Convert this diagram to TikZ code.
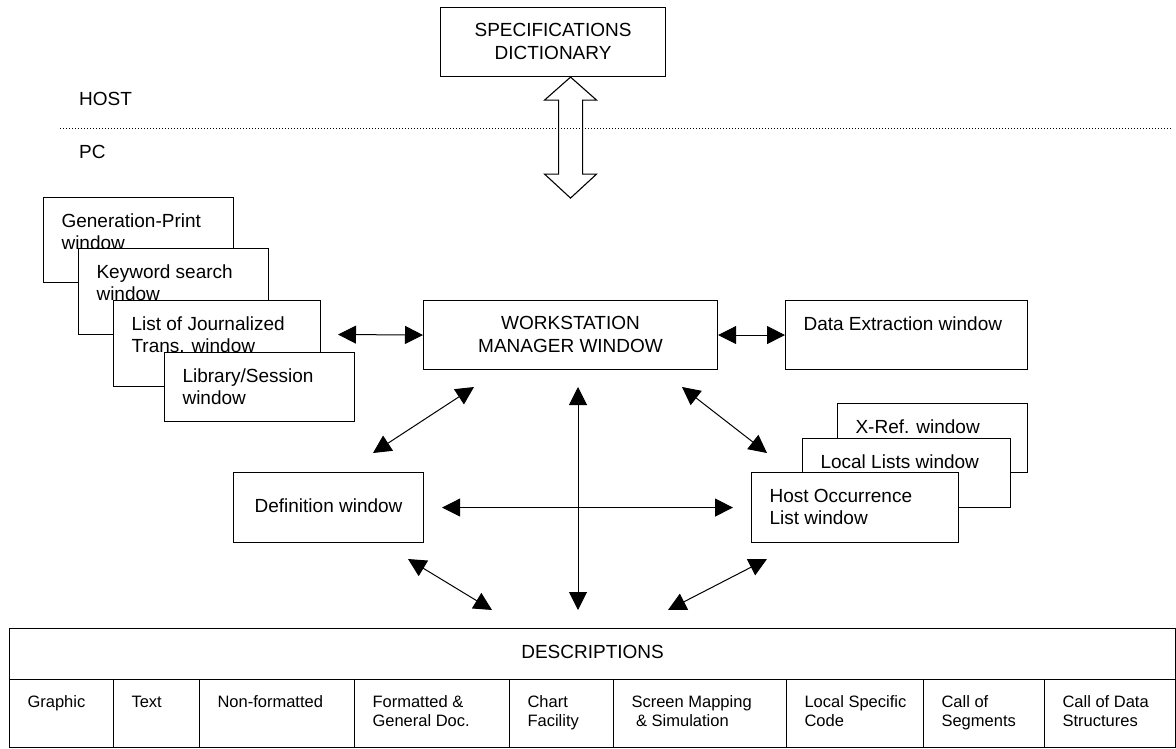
\documentclass[tikz,border=0pt]{standalone}
\usepackage{fontspec}
\setmainfont{Liberation Sans}
\usetikzlibrary{arrows.meta}
\newcommand{\fbig}{\fontsize{19pt}{22.5pt}\selectfont}
\newcommand{\fsmall}{\fontsize{16.5pt}{19pt}\selectfont}
% top-aligned box content: [first baseline]{width}{height}{text}
\newcommand{\tb}[4][29.5]{\parbox[t][#3pt][t]{#2pt}{\leftskip=18pt\rightskip=0pt plus 1fil\relax\rule{0pt}{#1pt}#4\par}}
\tikzset{
  box/.style={draw, line width=1.1pt, fill=white, inner sep=0pt, anchor=north west, font=\fbig},
  cell/.style={box, font=\fsmall},
  lbl/.style={inner sep=0pt, anchor=base west, font=\fbig},
  dbl/.style={{Triangle[length=18pt,width=18pt]}-{Triangle[length=18pt,width=18pt]}, line width=1pt},
  sep/.style={line width=0.8pt, dash pattern=on 0.8pt off 2.2pt},
}
\begin{document}
\begin{tikzpicture}[x=1pt,y=-1pt]
\path[use as bounding box] (0,0) rectangle (1176,749);

% host / pc
\node[lbl] (hostlbl) at (79,106) {HOST};
\node[lbl] (pclbl) at (79,158.3) {PC};
\draw[sep] (60,128) -- (1171,128);

% specifications dictionary
\node[box] (spec) at (440,7) {\tb[29]{225}{69}{\centering SPECIFICATIONS\\DICTIONARY}};
\draw[line width=1.1pt, line join=miter] ([xshift=17.5pt]spec.south) -- ++(26,23) -- ++(-14,0) -- ++(0,74) -- ++(14,0) -- ++(-26,24) -- ++(-26,-24) -- ++(14,0) -- ++(0,-74) -- ++(-14,0) -- cycle;

% left stack
\node[box] (gp) at (43,197) {\tb{190}{85}{Generation-Print\\window}};
\node[box] (kw) at (78,248) {\tb{190}{86}{Keyword search\\window}};
\node[box] (jl) at (113,300) {\tb{207}{86}{List of Journalized\\Trans. window}};
\node[box] (ls) at (164,352) {\tb{190}{69}{Library/Session\\window}};

% centre
\node[box] (wm) at (423,300) {\tb[29]{294}{69}{\centering WORKSTATION\\MANAGER WINDOW}};
\node[box] (dx) at (785,300) {\tb{242}{69}{Data Extraction window}};
\node[box] (def) at (233,472) {\tb[39.7]{190}{70}{\centering Definition window}};

% right stack
\node[box] (xr) at (837,403) {\tb{190}{69}{X-Ref. window}};
\node[box] (ll) at (802,438) {\tb{208}{69}{Local Lists window}};
\node[box] (ho) at (751,472) {\tb{207}{70}{Host Occurrence\\List window}};

% descriptions table
\node[box, anchor=north west, minimum width=1166pt, minimum height=51pt, text height=13.6pt, text depth=5.4pt] (desc) at (9,628) {DESCRIPTIONS};
\node[cell] (c1) at (9,679)    {\tb[28.3]{104}{68}{Graphic}};
\node[cell] (c2) at (113,679)  {\tb[28.3]{86}{68}{Text}};
\node[cell] (c3) at (199,679)  {\tb[28.3]{155}{68}{Non-formatted}};
\node[cell] (c4) at (354,679)  {\tb[28.3]{155}{68}{Formatted \&\\General Doc.}};
\node[cell] (c5) at (509,679)  {\tb[28.3]{104}{68}{Chart\\Facility}};
\node[cell] (c6) at (613,679)  {\tb[28.3]{173}{68}{Screen Mapping\\\mbox{}\ \& Simulation}};
\node[cell] (c7) at (786,679)  {\tb[28.3]{137}{68}{Local Specific\\Code}};
\node[cell] (c8) at (923,679)  {\tb[28.3]{121}{68}{Call of\\Segments}};
\node[cell] (c9) at (1044,679) {\tb[28.3]{131}{68}{Call of Data\\Structures}};

% connector ends
\coordinate (jlend) at (338,334.5);
\coordinate (wmsw) at (474,387);
\coordinate (defne) at (373,453);
\coordinate (wmse) at (682,387);
\coordinate (hone) at (767,453);
\coordinate (wms) at (578,387);
\coordinate (descn) at (578,610);
\coordinate (defse) at (408,559);
\coordinate (descnw) at (492,610);
\coordinate (hosw) at (767,559);
\coordinate (descne) at (668,610);

% connectors
\draw[dbl] (jlend) -- (wm.west);
\draw[dbl] (wm.east) -- (dx.west);
\draw[dbl] (wmsw) -- (defne);
\draw[dbl] (wmse) -- (hone);
\draw[dbl] (wms) -- (descn);
\draw[dbl, shorten <=18pt, shorten >=18pt] (def.east) -- (ho.west);
\draw[dbl] (defse) -- (descnw);
\draw[dbl] (hosw) -- (descne);
\end{tikzpicture}
\end{document}
